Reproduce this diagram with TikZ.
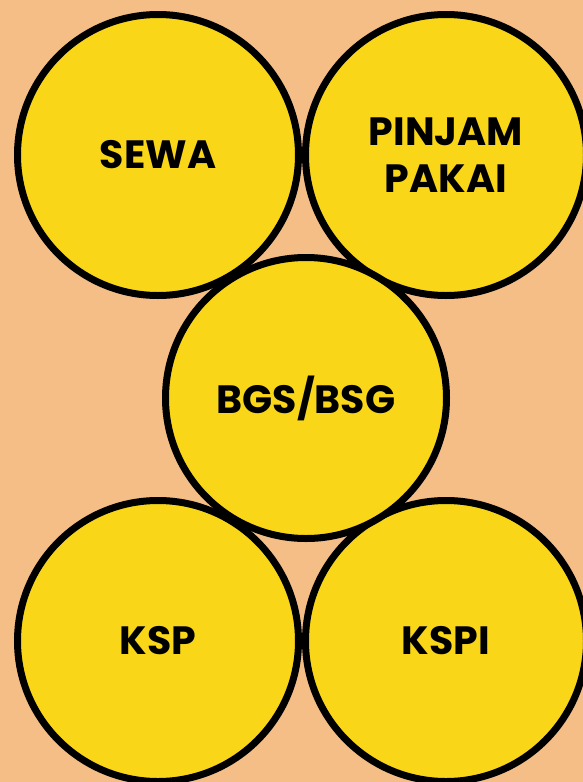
\documentclass[tikz,border=0pt]{standalone}
\usepackage{fontspec}
\setmainfont{Poppins}[BoldFont={* Bold}]
\definecolor{peach}{HTML}{F4BE86}
\definecolor{sun}{HTML}{F9D718}
\begin{document}
\begin{tikzpicture}[x=1pt,y=-1pt,
  bubble/.style={circle,draw=black,fill=sun,line width=7pt,minimum size=281pt,inner sep=0pt,
    font=\bfseries\fontsize{39.5}{47}\selectfont,align=center,text=black}]
\fill[peach] (0,0) rectangle (583,782);
\useasboundingbox (0,0) rectangle (583,782);
% four outer circles first, the middle one on top of them
\node[bubble] (sewa) at (158,155) {SEWA};
\node[bubble] (pinjam) at (446,155) {PINJAM\\PAKAI};
\node[bubble] (ksp) at (158,641) {KSP};
\node[bubble] (kspi) at (446,641) {KSPI};
\node[bubble] (bgs) at (306,398) {BGS/BSG};
\end{tikzpicture}
\end{document}
